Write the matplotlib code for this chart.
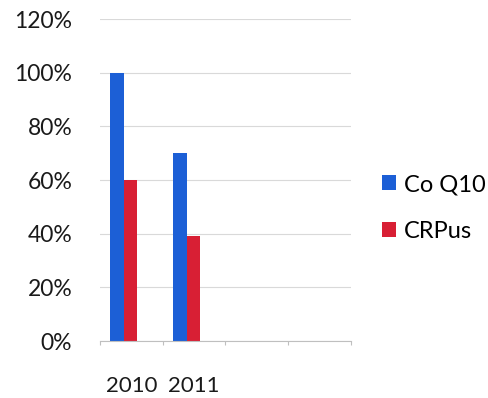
import numpy as np
import matplotlib.pyplot as plt
from matplotlib.ticker import FuncFormatter, FixedLocator

categories = ['2010', '2011', '', '']
series_names = ['Co Q10', 'CRPus']
coq10 = [100, 70]
crpus = [60, 39]
colors = ['#1c5fd6', '#d81f34']

plt.rcParams['font.family'] = ['Lato', 'DejaVu Sans']

fig = plt.figure(figsize=(4.88, 3.98), dpi=100)
ax = fig.add_axes([0.205, 0.143, 0.514, 0.809])

width = 0.215
x = np.arange(len(coq10))
ax.bar(x + 0.38 - width / 2, coq10, width, color=colors[0], label=series_names[0])
ax.bar(x + 0.38 + width / 2, crpus, width, color=colors[1], label=series_names[1])

ax.set_xlim(0, len(categories))
ax.set_ylim(0, 120)
ax.set_yticks(np.arange(0, 121, 20))
ax.yaxis.set_major_formatter(FuncFormatter(lambda v, p: f'{int(v)}%'))
ax.grid(axis='y', color='#d9d9d9', linewidth=0.8)
ax.set_axisbelow(True)

# tick marks on category boundaries, labels at category middles
ax.xaxis.set_major_locator(FixedLocator(np.arange(len(categories) + 1)))
ax.xaxis.set_major_formatter(FuncFormatter(lambda v, p: ''))
ax.xaxis.set_minor_locator(FixedLocator(np.arange(len(categories)) + 0.5))
ax.set_xticklabels(categories, minor=True)
ax.tick_params(axis='x', which='minor', length=0, pad=25, labelsize=16, labelcolor='#1a1a1a')
ax.tick_params(axis='x', which='major', length=3, color='#bfbfbf', direction='out')
ax.tick_params(axis='y', length=0, pad=20, labelsize=16.5, labelcolor='#1a1a1a')

for s in ['top', 'right', 'left']:
    ax.spines[s].set_visible(False)
ax.spines['bottom'].set_color('#bfbfbf')

fig.legend(loc='center left', bbox_to_anchor=(0.782, 0.477), frameon=False,
           fontsize=17, handlelength=0.6, handleheight=0.6, handletextpad=0.35,
           labelspacing=1.1, borderaxespad=0, borderpad=0)

fig.savefig('out.png', dpi=100)
